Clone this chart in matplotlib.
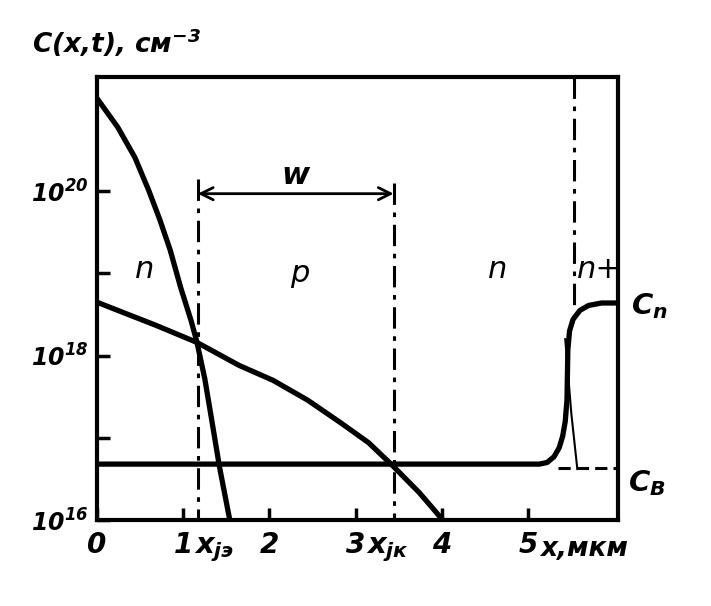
import matplotlib
matplotlib.use('Agg')
import matplotlib.pyplot as plt
import numpy as np

plt.rcParams['mathtext.fontset'] = 'custom'
plt.rcParams['mathtext.rm'] = 'DejaVu Sans:italic:bold'
plt.rcParams['mathtext.it'] = 'DejaVu Sans:italic:bold'
plt.rcParams['mathtext.bf'] = 'DejaVu Sans:italic:bold'
plt.rcParams['mathtext.default'] = 'it'

# ---- data (log10 of concentration, x in micrometres) ----
emitter_x = [0.0, 0.24, 0.44, 0.60, 0.73, 0.85, 0.97, 1.09, 1.16, 1.25, 1.33, 1.42, 1.54]
emitter_logc = [21.13, 20.78, 20.41, 20.01, 19.65, 19.28, 18.83, 18.43, 18.16, 17.72, 17.22, 16.65, 16.0]

base_x = [0.0, 0.29, 0.68, 1.16, 1.65, 2.04, 2.44, 2.83, 3.15, 3.42, 3.74, 4.01]
base_logc = [18.65, 18.53, 18.37, 18.16, 17.88, 17.70, 17.46, 17.18, 16.94, 16.67, 16.33, 16.0]

collector_x = [0.0, 5.13, 5.22, 5.30, 5.36, 5.40, 5.43, 5.45, 5.46, 5.48, 5.52, 5.60, 5.70, 5.85, 6.04]
collector_logc = [16.68, 16.68, 16.70, 16.77, 16.88, 17.02, 17.20, 17.46, 18.07, 18.30, 18.44, 18.55, 18.61, 18.64, 18.64]

thin_x = [5.43, 5.50, 5.57]
thin_logc = [18.20, 17.30, 16.62]

x_je = 1.17
x_jk = 3.44
x_nplus = 5.53
log_cb = 16.63
log_w = 19.97

x_ticks = [0, 1, 2, 3, 4, 5]
x_tick_labels = ['0', '1', '2', '3', '4', '5']
y_ticks = [16, 17, 18, 19, 20]
y_tick_labels = ['$10^{16}$', '', '$10^{18}$', '', '$10^{20}$']

regions = [('n', 0.55, 19.05), ('p', 2.35, 19.0), ('n', 4.65, 19.05), ('n+', 5.82, 19.05)]

# ---- figure ----
fig = plt.figure(figsize=(7.11, 6.06), dpi=100)
ax = fig.add_axes([0.1364, 0.1419, 0.869 - 0.1364, 0.873 - 0.1419])

XMAX = 6.04
YMIN, YMAX = 16.0, 21.39

def C(v):
    return [10.0 ** t for t in v]

ax.set_yscale('log')
ax.set_xlim(0, XMAX)
ax.set_ylim(10.0 ** YMIN, 10.0 ** YMAX)

lw_thick = 3.8
ax.plot(emitter_x, C(emitter_logc), color='black', lw=lw_thick,
        solid_capstyle='butt', solid_joinstyle='round')
ax.plot(base_x, C(base_logc), color='black', lw=lw_thick,
        solid_capstyle='butt', solid_joinstyle='round')
ax.plot(collector_x, C(collector_logc), color='black', lw=lw_thick,
        solid_capstyle='butt', solid_joinstyle='round')
ax.plot(thin_x, C(thin_logc), color='black', lw=1.5)

dash = (0, (7, 2.5, 1.5, 2.5))
ax.plot([x_je, x_je], C([20.15, YMIN]), color='black', lw=2.2, linestyle=dash)
ax.plot([x_jk, x_jk], C([20.1, YMIN]), color='black', lw=2.2, linestyle=dash)
ax.plot([x_nplus, x_nplus], C([YMAX, 18.6]), color='black', lw=2.2, linestyle=dash)
ax.plot([5.35, XMAX], C([log_cb, log_cb]), color='black', lw=2.2, linestyle=(0, (4, 2)))

ax.annotate('', xy=(x_je, 10.0 ** log_w), xytext=(x_jk, 10.0 ** log_w),
            arrowprops=dict(arrowstyle='<->', color='black', lw=2.0,
                            mutation_scale=22, shrinkA=0, shrinkB=0))
ax.text((x_je + x_jk) / 2, 10.0 ** (log_w + 0.05), 'w', fontsize=22,
        style='italic', weight='bold', ha='center', va='bottom')

for lab, xx, yy in regions:
    ax.text(xx, 10.0 ** yy, lab, fontsize=22, style='italic', ha='center', va='center')

# axes styling
for s in ax.spines.values():
    s.set_linewidth(3.0)
ax.set_yticks([10.0 ** t for t in y_ticks])
ax.set_yticklabels(y_tick_labels, fontsize=17)
ax.minorticks_off()
ax.set_xticks(x_ticks)
ax.set_xticklabels(x_tick_labels, fontsize=20, style='italic', weight='bold')
ax.tick_params(axis='both', direction='in', length=9, width=2.5, pad=8)
ax.tick_params(axis='y', pad=6)

# extra x-axis labels
tr = ax.get_xaxis_transform()
ax.text(x_je - 0.04, -0.035, r'$x_{j\mathrm{э}}$', transform=tr, fontsize=21,
        ha='left', va='top')
ax.text(x_jk - 0.32, -0.035, r'$x_{j\mathrm{к}}$', transform=tr, fontsize=21,
        ha='left', va='top')
ax.text(5.65, -0.035, 'x,мкм', transform=tr, fontsize=19, style='italic',
        weight='bold', ha='center', va='top')

# right-side labels
ty = ax.get_yaxis_transform()
ax.text(1.025, 10.0 ** 18.6, r'$C_{n}$', transform=ty, fontsize=21, ha='left', va='center')
ax.text(1.02, 10.0 ** 16.45, r'$C_{B}$', transform=ty, fontsize=21, ha='left', va='center')

# title
fig.text(0.045, 0.93, 'C(x,t), см$^{-3}$', fontsize=19, style='italic',
         weight='bold', ha='left', va='center')

fig.savefig('out.png', dpi=100)
